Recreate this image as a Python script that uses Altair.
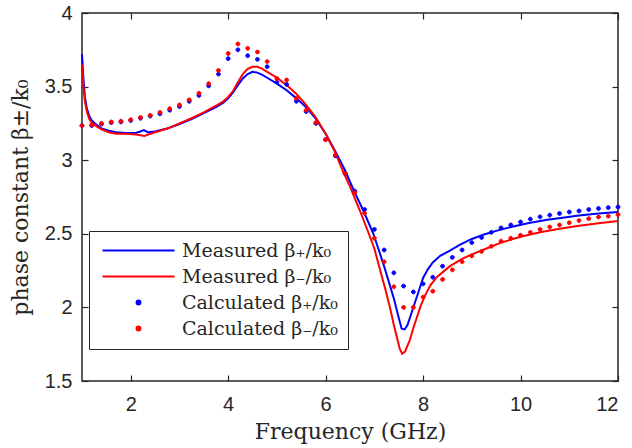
import altair as alt
import pandas as pd

# ---- data ----
meas_plus_f = [1.00, 1.03, 1.06, 1.10, 1.15, 1.20, 1.30, 1.40, 1.55, 1.70, 1.90, 2.10, 2.20, 2.27, 2.35, 2.50,
               2.75, 3.00, 3.25, 3.50, 3.75, 3.90, 4.00, 4.10, 4.20, 4.30, 4.40, 4.50, 4.60, 4.70, 4.80,
               5.00, 5.20, 5.40, 5.60, 5.80, 6.00, 6.20, 6.40, 6.57, 6.77, 6.98, 7.10, 7.20, 7.30, 7.40,
               7.50, 7.56, 7.62, 7.68, 7.75, 7.83, 7.92, 8.00, 8.10, 8.20, 8.35, 8.55, 8.75, 9.00, 9.25,
               9.50, 9.85, 10.20, 10.55, 10.90, 11.20, 11.60, 12.00]
meas_plus_v = [3.72, 3.55, 3.43, 3.35, 3.30, 3.27, 3.24, 3.215, 3.20, 3.19, 3.185, 3.185, 3.195, 3.205, 3.19, 3.195,
               3.215, 3.245, 3.28, 3.32, 3.36, 3.39, 3.42, 3.46, 3.51, 3.555, 3.585, 3.60, 3.595, 3.58, 3.56,
               3.52, 3.475, 3.42, 3.36, 3.28, 3.18, 3.06, 2.93, 2.80, 2.66, 2.50, 2.38, 2.28, 2.17, 2.06,
               1.93, 1.855, 1.85, 1.88, 1.95, 2.03, 2.12, 2.20, 2.26, 2.305, 2.35, 2.385, 2.425, 2.465, 2.495,
               2.52, 2.55, 2.575, 2.595, 2.61, 2.625, 2.638, 2.648]

meas_minus_f = [1.00, 1.03, 1.06, 1.10, 1.15, 1.20, 1.30, 1.40, 1.55, 1.70, 1.90, 2.10, 2.20, 2.28, 2.36, 2.50,
                2.75, 3.00, 3.25, 3.50, 3.75, 3.90, 4.00, 4.10, 4.20, 4.30, 4.40, 4.50, 4.60, 4.70, 4.80,
                5.00, 5.20, 5.40, 5.60, 5.80, 6.00, 6.20, 6.35, 6.50, 6.70, 6.91, 7.00, 7.12, 7.22, 7.32,
                7.40, 7.46, 7.52, 7.57, 7.63, 7.68, 7.73, 7.80, 7.87, 7.95, 8.04, 8.15, 8.28, 8.55, 8.80,
                9.00, 9.30, 9.60, 10.00, 10.40, 10.80, 11.20, 11.60, 12.00]
meas_minus_v = [3.65, 3.50, 3.40, 3.33, 3.28, 3.255, 3.23, 3.21, 3.19, 3.18, 3.18, 3.175, 3.17, 3.165, 3.175, 3.19,
                3.215, 3.25, 3.285, 3.325, 3.37, 3.40, 3.43, 3.47, 3.53, 3.585, 3.62, 3.635, 3.635, 3.62, 3.60,
                3.56, 3.51, 3.45, 3.375, 3.29, 3.18, 3.05, 2.93, 2.82, 2.66, 2.48, 2.40, 2.25, 2.13, 2.00,
                1.88, 1.80, 1.72, 1.685, 1.70, 1.74, 1.78, 1.86, 1.93, 2.01, 2.08, 2.15, 2.205, 2.28, 2.33,
                2.36, 2.40, 2.44, 2.48, 2.51, 2.535, 2.555, 2.572, 2.587]

calc_f = [1.0, 1.2, 1.4, 1.6, 1.8, 2.0, 2.2, 2.4, 2.6, 2.8, 3.0, 3.2, 3.4, 3.6, 3.8, 4.0, 4.2, 4.4, 4.6, 4.8,
          5.0, 5.2, 5.4, 5.6, 5.8, 6.0, 6.2, 6.4, 6.6, 6.8, 7.0, 7.2, 7.4, 7.6, 7.8, 8.0, 8.2, 8.4, 8.6, 8.8,
          9.0, 9.2, 9.4, 9.6, 9.8, 10.0, 10.2, 10.4, 10.6, 10.8, 11.0, 11.2, 11.4, 11.6, 11.8, 12.0]
calc_plus_v = [3.235, 3.235, 3.245, 3.255, 3.26, 3.27, 3.285, 3.30, 3.315, 3.34, 3.365, 3.40, 3.44, 3.505, 3.585,
               3.69, 3.75, 3.71, 3.685, 3.635, 3.53, 3.515, 3.40, 3.33, 3.25, 3.14, 3.03, 2.91, 2.79, 2.665,
               2.53, 2.39, 2.235, 2.145, 2.105, 2.16, 2.205, 2.28, 2.34, 2.39, 2.44, 2.475, 2.51, 2.54, 2.56,
               2.58, 2.60, 2.615, 2.627, 2.638, 2.648, 2.655, 2.665, 2.672, 2.678, 2.682]
calc_minus_v = [3.235, 3.24, 3.25, 3.26, 3.265, 3.275, 3.29, 3.305, 3.325, 3.35, 3.375, 3.41, 3.455, 3.52, 3.61,
                3.725, 3.79, 3.76, 3.735, 3.67, 3.555, 3.545, 3.42, 3.34, 3.255, 3.14, 3.035, 2.91, 2.78, 2.64,
                2.47, 2.31, 2.14, 2.00, 2.00, 2.07, 2.11, 2.19, 2.255, 2.31, 2.35, 2.38, 2.415, 2.45, 2.47,
                2.49, 2.51, 2.53, 2.546, 2.56, 2.575, 2.59, 2.603, 2.614, 2.62, 2.63]

labels = ["Measured β₊/k₀", "Measured β₋/k₀", "Calculated β₊/k₀", "Calculated β₋/k₀"]
colors = ["#0000ff", "#ff0000", "#0000ff", "#ff0000"]
x_ticks = [2, 4, 6, 8, 10, 12]
y_ticks = [1.5, 2, 2.5, 3, 3.5, 4]

meas_df = pd.concat([
    pd.DataFrame({"f": meas_plus_f, "v": meas_plus_v, "series": labels[0]}),
    pd.DataFrame({"f": meas_minus_f, "v": meas_minus_v, "series": labels[1]}),
])
calc_df = pd.concat([
    pd.DataFrame({"f": calc_f, "v": calc_plus_v, "series": labels[2]}),
    pd.DataFrame({"f": calc_f, "v": calc_minus_v, "series": labels[3]}),
])

INK = "#262626"
SYM = 144  # symbol area -> 6 px per unit of the custom paths
LINE = "M -6 0 L 6 0"
DOT = "M -0.32 0 A 0.32 0.32 0 1 0 0.32 0 A 0.32 0.32 0 1 0 -0.32 0 Z"

xscale = alt.Scale(domain=[1, 12], nice=False, zero=False)
yscale = alt.Scale(domain=[1.5, 4], nice=False, zero=False)
cscale = alt.Scale(domain=labels, range=colors)
sscale = alt.Scale(domain=labels, range=[LINE, LINE, DOT, DOT])

axis_bottom = alt.Axis(orient="bottom", values=x_ticks, title="Frequency (GHz)", titlePadding=7, labelPadding=13)
axis_left = alt.Axis(orient="left", values=y_ticks, format="~g", title="phase constant β±/k₀",
                     titlePadding=12, labelPadding=10)
axis_top = alt.Axis(orient="top", values=x_ticks, labels=False, title=None)
axis_right = alt.Axis(orient="right", values=y_ticks, labels=False, title=None)

legend = alt.Legend(title=None, orient="none", legendX=7, legendY=218, strokeColor=INK, fillColor="white",
                    padding=10, labelFont="DejaVu Serif", labelFontSize=19, labelColor=INK,
                    symbolStrokeWidth=2, symbolSize=SYM, symbolOffset=30, labelOffset=34, rowPadding=6)

lines = alt.Chart(meas_df).mark_line(strokeWidth=2).encode(
    x=alt.X("f:Q", scale=xscale, axis=axis_bottom),
    y=alt.Y("v:Q", scale=yscale, axis=axis_left),
    stroke=alt.Stroke("series:N", scale=cscale, legend=legend),
)

points = alt.Chart(calc_df).mark_point(filled=True, size=SYM, strokeWidth=1, opacity=1).encode(
    x=alt.X("f:Q", scale=xscale, axis=axis_top),
    y=alt.Y("v:Q", scale=yscale, axis=axis_right),
    fill=alt.Fill("series:N", scale=cscale, legend=legend),
    stroke=alt.Stroke("series:N", scale=cscale, legend=legend),
    shape=alt.Shape("series:N", scale=sscale, legend=legend),
)

chart = alt.layer(lines, points).resolve_axis(x="independent", y="independent").properties(
    width=536, height=368,
    autosize=alt.AutoSizeParams(type="none"),
    padding={"left": 82, "top": 13, "right": 14, "bottom": 67},
    background="white",
).configure_view(stroke=INK, strokeWidth=1.5).configure_axis(
    grid=False, domain=False, tickSize=6, offset=-6, tickColor=INK, tickWidth=1.2,
    labelFont="Liberation Sans", labelFontSize=20, labelColor=INK,
    titleFont="DejaVu Serif", titleFontSize=22, titleFontWeight="normal", titleColor=INK,
)

chart.save("out.html", embed_options={"renderer": "svg", "actions": False})
